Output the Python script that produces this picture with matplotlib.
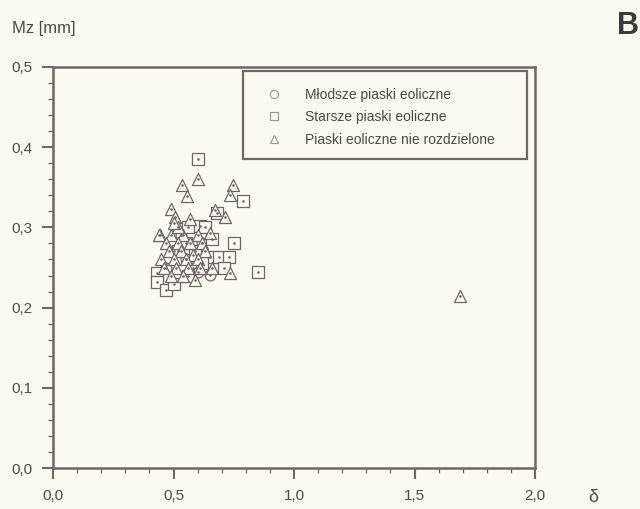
import matplotlib
matplotlib.use("Agg")
import matplotlib.pyplot as plt
from matplotlib.lines import Line2D
from matplotlib.patches import Rectangle
from matplotlib.ticker import MultipleLocator, FuncFormatter

# Młodsze piaski eoliczne (circles)
young_x = [0.50, 0.55, 0.58, 0.65, 0.62, 0.53, 0.47, 0.60]
young_y = [0.270, 0.260, 0.250, 0.241, 0.280, 0.290, 0.250, 0.245]

# Starsze piaski eoliczne (squares)
old_x = [0.60, 0.79, 0.56, 0.61, 0.75, 0.85, 0.43, 0.43, 0.47, 0.65, 0.69,
         0.73, 0.68, 0.63, 0.50, 0.56, 0.62, 0.52, 0.59, 0.66, 0.71, 0.55]
old_y = [0.385, 0.333, 0.301, 0.302, 0.281, 0.245, 0.243, 0.232, 0.222, 0.263, 0.263,
         0.263, 0.318, 0.300, 0.230, 0.240, 0.255, 0.270, 0.270, 0.285, 0.250, 0.280]

# Piaski eoliczne nie rozdzielone (triangles)
mixed_x = [0.60, 0.535, 0.556, 0.747, 0.733, 0.49, 0.507, 0.674, 0.715, 0.653, 0.445,
           0.736, 1.69,
           0.44, 0.49, 0.54, 0.60, 0.47, 0.52, 0.57, 0.62, 0.48, 0.53, 0.58, 0.63,
           0.45, 0.50, 0.55, 0.60, 0.46, 0.51, 0.56, 0.61, 0.66, 0.49, 0.54, 0.59,
           0.52, 0.57, 0.50]
mixed_y = [0.360, 0.353, 0.339, 0.353, 0.340, 0.323, 0.313, 0.322, 0.313, 0.293, 0.291,
           0.243, 0.214,
           0.290, 0.290, 0.290, 0.290, 0.280, 0.280, 0.280, 0.280, 0.270, 0.270, 0.265, 0.270,
           0.260, 0.260, 0.260, 0.260, 0.250, 0.250, 0.250, 0.250, 0.250, 0.240, 0.240, 0.235,
           0.300, 0.310, 0.305]

labels = ["Młodsze piaski eoliczne", "Starsze piaski eoliczne",
          "Piaski eoliczne nie rozdzielone"]

bg = "#fbfaf1"
ink = "#6f6767"
txt = "#4d4a4a"

plt.rcParams["font.family"] = ["Liberation Sans", "DejaVu Sans"]

fig = plt.figure(figsize=(6.4, 5.09), dpi=100, facecolor=bg)
ax = fig.add_axes([53 / 640, 41 / 509, 482 / 640, 401 / 509], facecolor=bg)

series = [(young_x, young_y, "o", 60), (old_x, old_y, "s", 70), (mixed_x, mixed_y, "^", 75)]
for xs, ys, m, s in series:
    ax.scatter(xs, ys, marker=m, s=s, facecolors=bg, edgecolors=ink, linewidths=0.9, zorder=3)
    ax.scatter(xs, ys, marker=".", s=3, color=ink, zorder=4)

ax.set_xlim(0, 2.0)
ax.set_ylim(0, 0.5)
ax.xaxis.set_major_locator(MultipleLocator(0.5))
ax.xaxis.set_minor_locator(MultipleLocator(0.1))
ax.yaxis.set_major_locator(MultipleLocator(0.1))
ax.yaxis.set_minor_locator(MultipleLocator(0.02))
fmt = FuncFormatter(lambda v, p: f"{v:.1f}".replace(".", ","))
ax.xaxis.set_major_formatter(fmt)
ax.yaxis.set_major_formatter(fmt)

for sp in ax.spines.values():
    sp.set_color(ink)
    sp.set_linewidth(1.8)
ax.tick_params(which="major", direction="out", length=8, width=1.5, color=ink,
               labelsize=11, labelcolor=txt, pad=7)
ax.tick_params(which="minor", direction="out", length=3.5, width=0.9, color=ink)

# legend box
ax.add_patch(Rectangle((0.394, 0.771), 0.589, 0.219, transform=ax.transAxes,
                       facecolor=bg, edgecolor=ink, linewidth=1.6, zorder=5))
handles = [Line2D([], [], linestyle="none", marker=m, markersize=6,
                  markerfacecolor=bg, markeredgecolor="#9a9494", markeredgewidth=0.8)
           for m in ["o", "s", "^"]]
leg = ax.legend(handles, labels, loc="upper left", bbox_to_anchor=(0.444, 0.948),
                frameon=False, borderpad=0, borderaxespad=0, handlelength=1.0,
                handletextpad=1.7, labelspacing=0.6, fontsize=10)
leg.set_zorder(6)
for t in leg.get_texts():
    t.set_color(txt)

fig.text(12 / 640, 1 - 28 / 509, "Mz [mm]", fontsize=12, color=txt, va="center", ha="left")
fig.text(628 / 640, 1 - 26 / 509, "B", fontsize=22, fontweight="bold", color="#3c3a3a",
         va="center", ha="center")
fig.text(593 / 640, 1 - 497 / 509, "δ", fontsize=13, color=txt, va="center", ha="center")

fig.savefig("out.png", dpi=100, facecolor=bg)
